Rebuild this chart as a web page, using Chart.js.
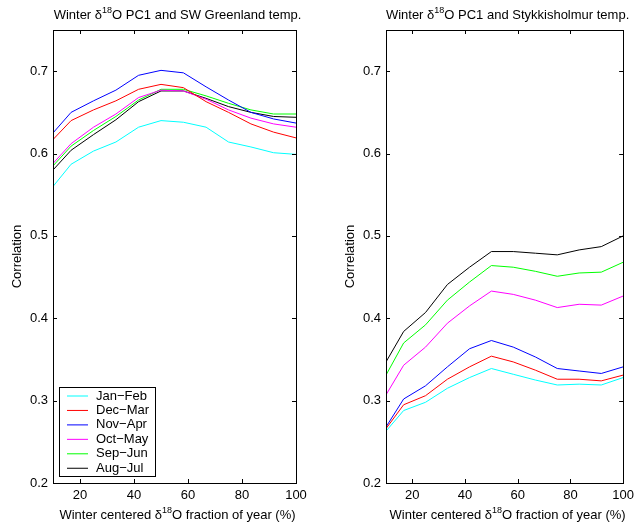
<!DOCTYPE html>
<html>
<head>
<meta charset="utf-8">
<script src="https://cdn.jsdelivr.net/npm/chart.js@4.4.0/dist/chart.umd.min.js"></script>
<style>
  body { margin: 0; background: #fff; }
  #wrap { position: relative; width: 639px; height: 523px; }
  canvas { position: absolute; top: 0; }
</style>
</head>
<body>
<div id="wrap">
  <canvas id="c-greenland" width="320" height="523" style="left:0"></canvas>
  <canvas id="c-stykk" width="319" height="523" style="left:320px"></canvas>
</div>
<script>
const FONT = "'Liberation Sans', Arial, Helvetica, sans-serif";

// fraction of year (%) for each sample
const xPct = [10, 16.7, 25, 33.3, 41.7, 50, 58.3, 66.7, 75, 83.3, 91.7, 100];
const xTicks = [20, 40, 60, 80, 100];
const yTicks = [0.2, 0.3, 0.4, 0.5, 0.6, 0.7];

const seasonLabels = ["Jan\u2212Feb", "Dec\u2212Mar", "Nov\u2212Apr", "Oct\u2212May", "Sep\u2212Jun", "Aug\u2212Jul"];
const seasonColors = ["#00ffff", "#ff0000", "#0000ff", "#ff00ff", "#00ff00", "#000000"];

// SW Greenland temp.
const janFebGr = [0.560, 0.587, 0.603, 0.614, 0.632, 0.640, 0.638, 0.632, 0.614, 0.608, 0.601, 0.599];
const decMarGr = [0.617, 0.640, 0.653, 0.664, 0.678, 0.684, 0.680, 0.663, 0.650, 0.636, 0.626, 0.619];
const novAprGr = [0.625, 0.650, 0.664, 0.677, 0.695, 0.701, 0.698, 0.681, 0.665, 0.650, 0.642, 0.637];
const octMayGr = [0.588, 0.612, 0.632, 0.648, 0.668, 0.677, 0.676, 0.666, 0.653, 0.643, 0.636, 0.632];
const sepJunGr = [0.585, 0.609, 0.628, 0.645, 0.665, 0.678, 0.678, 0.670, 0.661, 0.653, 0.648, 0.648];
const augJulGr = [0.580, 0.604, 0.623, 0.641, 0.663, 0.676, 0.676, 0.667, 0.657, 0.650, 0.645, 0.644];

// Stykkisholmur temp.
const janFebSt = [0.263, 0.288, 0.298, 0.315, 0.328, 0.339, 0.332, 0.325, 0.319, 0.320, 0.319, 0.328];
const decMarSt = [0.266, 0.295, 0.306, 0.326, 0.341, 0.354, 0.347, 0.337, 0.326, 0.326, 0.324, 0.331];
const novAprSt = [0.268, 0.302, 0.318, 0.341, 0.363, 0.373, 0.365, 0.353, 0.339, 0.336, 0.333, 0.341];
const octMaySt = [0.307, 0.343, 0.365, 0.394, 0.415, 0.433, 0.429, 0.422, 0.413, 0.417, 0.416, 0.427];
const sepJunSt = [0.331, 0.370, 0.392, 0.422, 0.444, 0.464, 0.462, 0.457, 0.451, 0.455, 0.456, 0.468];
const augJulSt = [0.347, 0.384, 0.407, 0.441, 0.462, 0.481, 0.481, 0.479, 0.477, 0.483, 0.487, 0.500];

// draws text pieces, some as superscript, centred on cx
function drawSupText(ctx, parts, cx, cy) {
	const normal = "13px " + FONT;
	const small = "9px " + FONT;
	let total = 0;
	for (const p of parts) {
		ctx.font = p[1] ? small : normal;
		total += ctx.measureText(p[0]).width;
	}
	let x = cx - total / 2;
	ctx.textAlign = "left";
	ctx.textBaseline = "middle";
	for (const p of parts) {
		ctx.font = p[1] ? small : normal;
		ctx.fillText(p[0], x, p[1] ? cy - 4.5 : cy);
		x += ctx.measureText(p[0]).width;
	}
}

const matlabAxes = {
	id: "matlabAxes",
	afterDraw(chart, args, opts) {
		const ctx = chart.ctx;
		const a = chart.chartArea;
		const xs = chart.scales.x;
		const ys = chart.scales.y;
		const tl = 4;
		ctx.save();
		ctx.strokeStyle = "#000";
		ctx.lineWidth = 1;
		ctx.strokeRect(Math.round(a.left) + 0.5, Math.round(a.top) + 0.5,
			Math.round(a.right - a.left), Math.round(a.bottom - a.top));
		ctx.beginPath();
		xTicks.forEach((v) => {
			const px = Math.round(xs.getPixelForValue(v)) + 0.5;
			ctx.moveTo(px, a.bottom); ctx.lineTo(px, a.bottom - tl);
			ctx.moveTo(px, a.top); ctx.lineTo(px, a.top + tl);
		});
		yTicks.forEach((v) => {
			const py = Math.round(ys.getPixelForValue(v)) + 0.5;
			ctx.moveTo(a.left, py); ctx.lineTo(a.left + tl, py);
			ctx.moveTo(a.right, py); ctx.lineTo(a.right - tl, py);
		});
		ctx.stroke();

		ctx.fillStyle = "#000";
		const mid = (a.left + a.right) / 2 + 3;
		drawSupText(ctx, [["Winter \u03b4", false], ["18", true], ["O PC1 and " + opts.place + " temp.", false]], mid, 15);
		drawSupText(ctx, [["Winter centered \u03b4", false], ["18", true], ["O fraction of year (%)", false]], mid, 515);

		if (opts.legend) {
			const lx = 59.5, ly = 387.5, lw = 96, lh = 89;
			ctx.fillStyle = "#fff";
			ctx.fillRect(lx, ly, lw, lh);
			ctx.strokeRect(lx, ly, lw, lh);
			ctx.font = "13px " + FONT;
			ctx.textBaseline = "middle";
			ctx.textAlign = "left";
			chart.data.datasets.forEach((ds, i) => {
				const ry = 396 + i * 14.45;
				ctx.strokeStyle = ds.borderColor;
				ctx.beginPath();
				ctx.moveTo(67, ry); ctx.lineTo(88, ry);
				ctx.stroke();
				ctx.fillStyle = "#000";
				ctx.fillText(ds.label, 96, ry);
			});
		}
		ctx.restore();
	},
};

function buildPanel(id, place, series, yAxisWidth, padRight, yTitlePad, legend) {
	const datasets = series.map((vals, i) => ({
		label: seasonLabels[i],
		borderColor: seasonColors[i],
		backgroundColor: seasonColors[i],
		borderWidth: 1,
		pointRadius: 0,
		fill: false,
		tension: 0,
		data: vals.map((v, j) => ({ x: xPct[j], y: v })),
	}));

	return new Chart(document.getElementById(id).getContext("2d"), {
		type: "line",
		data: { datasets: datasets },
		plugins: [matlabAxes],
		options: {
			responsive: false,
			animation: false,
			devicePixelRatio: 1,
			layout: { padding: { top: 30, right: padRight, bottom: 0, left: 0 } },
			scales: {
				x: {
					type: "linear",
					min: 10,
					max: 100,
					grid: { display: false, drawTicks: false },
					border: { display: false },
					afterBuildTicks: (s) => { s.ticks = xTicks.map((v) => ({ value: v })); },
					afterFit: (s) => { s.height = 40; },
					ticks: {
						color: "#000",
						padding: 5,
						maxRotation: 0,
						font: { family: FONT, size: 13 },
						callback: (v) => String(v),
					},
				},
				y: {
					type: "linear",
					min: 0.2,
					max: 0.75,
					grid: { display: false, drawTicks: false },
					border: { display: false },
					afterBuildTicks: (s) => { s.ticks = yTicks.map((v) => ({ value: v })); },
					afterFit: (s) => { s.width = yAxisWidth; },
					ticks: {
						color: "#000",
						padding: 5,
						font: { family: FONT, size: 13 },
						callback: (v) => Number(v).toFixed(1),
					},
					title: {
						display: true,
						text: "Correlation",
						color: "#000",
						font: { family: FONT, size: 13 },
						padding: { top: yTitlePad, bottom: 0 },
					},
				},
			},
			plugins: {
				legend: { display: false },
				tooltip: { enabled: false },
				matlabAxes: { place: place, legend: legend },
			},
		},
	});
}

buildPanel("c-greenland", "SW Greenland",
	[janFebGr, decMarGr, novAprGr, octMayGr, sepJunGr, augJulGr], 53, 24, 10, true);
buildPanel("c-stykk", "Stykkisholmur",
	[janFebSt, decMarSt, novAprSt, octMaySt, sepJunSt, augJulSt], 66, 10, 23, false);
</script>
</body>
</html>
